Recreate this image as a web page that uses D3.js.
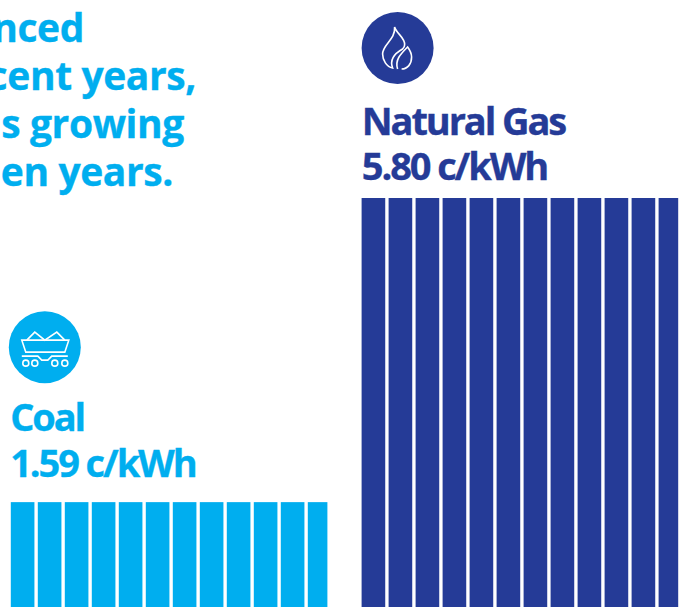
<!DOCTYPE html>
<html><head><meta charset="utf-8">
<style>html,body{margin:0;padding:0;background:#fff}svg{display:block}text{font-family:"Open Sans",sans-serif;font-weight:700;stroke-width:.35}</style>
<script src="https://cdn.jsdelivr.net/npm/d3@7"></script></head>
<body><svg id="c" width="680" height="607"></svg>
<script>
const categories = ["Coal", "Natural Gas"];
const valueLabels = ["1.59 c/kWh", "5.80 c/kWh"];
const values = [1.59, 5.80];
const colors = ["#00aeef", "#253b97"];
const headlineLines = ["nced", "cent years,", "s growing", "en years."];
const stripes = d3.range(12);

const svg = d3.select("#c");
const y = d3.scaleLinear().domain([0, 5.8]).range([617, 198]);
const groupX = d3.scaleOrdinal().domain(categories).range([10.8, 361.6]);
const band = d3.scaleBand().domain(stripes).range([0, 320.625]).paddingInner(0.125).paddingOuter(0);

svg.append("g").selectAll("text").data(headlineLines).join("text")
  .attr("x", 0).attr("y", (d, i) => 41.6 + i * 48)
  .attr("fill", colors[0]).attr("stroke", colors[0]).attr("font-size", 39).attr("letter-spacing", -0.4)
  .attr("text-anchor", "end")
  .attr("dx", (d, i) => [84, 196, 184, 173][i])
  .text(d => d);

const labelOffsets = [[71, 25], [63, 18]];
const iconOffsets = [155, 150];
const labelX = [-0.6, 0.2];
categories.forEach((c, k) => {
  const g = svg.append("g").attr("transform", `translate(${groupX(c)},0)`);
  const col = colors[k];
  const top = y(values[k]);
  g.selectAll("rect").data(stripes).join("rect")
    .attr("x", d => band(d)).attr("y", top)
    .attr("width", d => d === 11 ? 19.6 : band.bandwidth())
    .attr("height", 617 - top).attr("fill", col);
  g.append("text").attr("x", labelX[k]).attr("y", top - labelOffsets[k][0]).attr("fill", col).attr("stroke", col)
    .attr("font-size", 38).attr("letter-spacing", -2.1).text(c);
  g.append("text").attr("x", labelX[k]).attr("y", top - labelOffsets[k][1]).attr("fill", col).attr("stroke", col)
    .attr("font-size", 38).attr("letter-spacing", -2.1).text(valueLabels[k]);
  const ic = g.append("g").attr("transform", `translate(${k ? 36 : 34},${top - iconOffsets[k]})`);
  ic.append("circle").attr("r", 36).attr("fill", col);
  const s = ic.append("g").attr("fill", "none").attr("stroke", "#fff").attr("stroke-width", 1.6);
  if (k === 0) {
    s.append("path").attr("d", "M-23,-7H24L20,5H-19Z");
    s.append("path").attr("d", "M-18,-7L-10,-15L0,-7L12,-15L20,-7");
    s.append("path").attr("d", "M-23,9H-7L-3,13H3L7,9H23");
    [-19, -10, 10, 20].forEach(cx => s.append("circle").attr("cx", cx).attr("cy", 16).attr("r", 3));
  } else {
    s.append("path").attr("d", "M-3,-21C-1,-14 8,-10 7,-3C7,-1 6,0 5,1C-4,6 -8,12 -5,20C-11,19 -15,12 -15,6C-15,-4 -2,-8 -3,-21Z");
    s.append("path").attr("d", "M0,21C-3,12 3,6 10,-1C13,3 14,6 14,9C14,16 10,21 4,21");
  }
});
</script></body></html>
